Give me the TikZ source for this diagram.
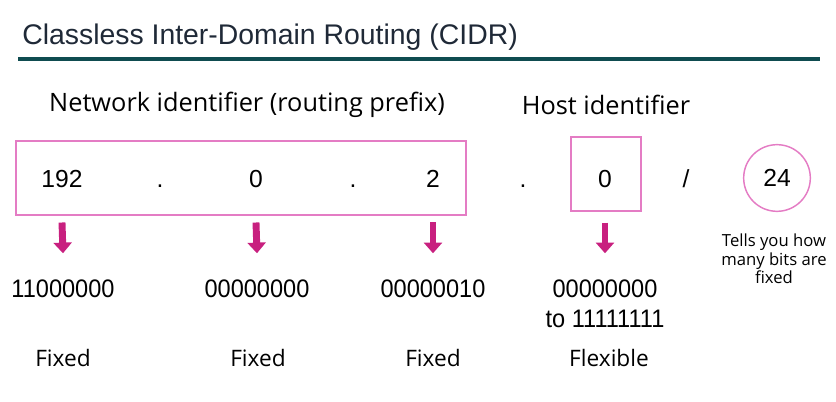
\documentclass[tikz,border=0pt]{standalone}
\usepackage{fontspec}
\setmainfont{Liberation Sans}
\newfontfamily\segoe{Open Sans}
\newfontfamily\narrowfont[FakeStretch=0.93]{Liberation Sans}
\usetikzlibrary{arrows.meta,positioning,calc}
\definecolor{rule}{HTML}{0F4C50}
\definecolor{titletext}{HTML}{1F2937}
\definecolor{boxpink}{HTML}{E47CC4}
\definecolor{arrowpink}{HTML}{C8207F}

\tikzset{
  netlabel/.style={font=\segoe\fontsize{19}{22}\selectfont, inner sep=0pt},
  digit/.style={font=\fontsize{18.5}{22}\selectfont, inner sep=0pt, anchor=base},
  bitstr/.style={font=\narrowfont\fontsize{19}{22}\selectfont, inner sep=0pt, anchor=base},
  fixlabel/.style={font=\segoe\fontsize{17}{20}\selectfont, inner sep=0pt, anchor=base},
  note/.style={font=\segoe\fontsize{12.5}{14}\selectfont, inner sep=0pt, align=center},
  pinkbox/.style={draw=boxpink, line width=1.1pt},
  bitarrow/.style={arrowpink, line width=5.2pt, -{Triangle[width=13.5pt,length=8pt]}}
}

\begin{document}
\begin{tikzpicture}[x=0.75pt,y=-0.75pt]
  \useasboundingbox (0,0) rectangle (836,402);

  % title and rule
  \node[anchor=west, inner sep=0pt, text=titletext, font=\fontsize{21.3}{25}\selectfont] (title) at (22,37) {Classless Inter-Domain Routing (CIDR)};
  \draw[rule, line width=2.6pt] (18,59) -- (820,59);

  % headings
  \node[netlabel] (netid) at (247,105) {Network identifier (routing prefix)};
  \node[netlabel] (hostid) at (606,105) {Host identifier};

  % address
  \draw[pinkbox] (16,141) rectangle (466,215);
  \draw[pinkbox] (571,137) rectangle (641,211);
  \node[pinkbox, circle, minimum size=50pt, inner sep=0pt] (pfx) at (777,178) {};

  \node[digit] (n1) at (62,188) {192};
  \node[digit] (d1) at (160,188) {.};
  \node[digit] (n2) at (256,188) {0};
  \node[digit] (d2) at (353,188) {.};
  \node[digit] (n3) at (433,188) {2};
  \node[digit] (d3) at (523,188) {.};
  \node[digit] (n4) at (605,188) {0};
  \node[digit] (slash) at (686,188) {/};
  \node[digit] (plen) at (777,187) {24};

  % binary
  \node[bitstr] (b1) at (63,298) {11000000};
  \node[bitstr] (b2) at (257,298) {00000000};
  \node[bitstr] (b3) at (433,298) {00000010};
  \node[bitstr] (b4) at (605,298) {00000000};
  \node[bitstr] (b4top) at (605,328) {to 11111111};

  \draw[bitarrow] ($(n1)+(0,43)$) -- ($(b1)+(0,-36)$);
  \draw[bitarrow] ($(n2)+(0,43)$) -- ($(b2)+(0,-36)$);
  \draw[bitarrow] ($(n3)+(0,43)$) -- ($(b3)+(0,-36)$);
  \draw[bitarrow] ($(n4)+(0,43)$) -- ($(b4)+(0,-36)$);

  \node[note] (tells) at (774,259) {Tells you how\\many bits are\\fixed};

  % fixed / flexible
  \node[fixlabel] (f1) at (63,367) {Fixed};
  \node[fixlabel] (f2) at (258,367) {Fixed};
  \node[fixlabel] (f3) at (433,367) {Fixed};
  \node[fixlabel] (f4) at (609,367) {Flexible};
\end{tikzpicture}
\end{document}
